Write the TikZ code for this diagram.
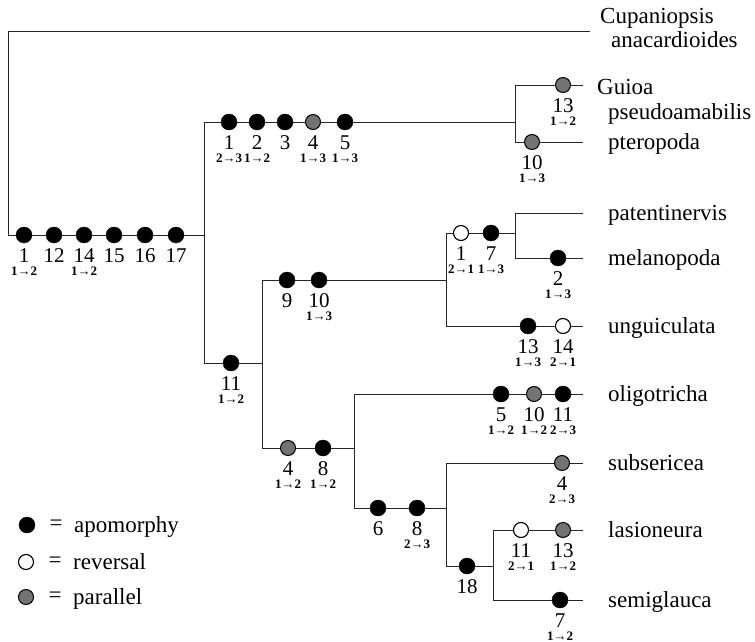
\documentclass[tikz,border=0pt]{standalone}
\usepackage{fontspec}
\setmainfont{Liberation Serif}
\usetikzlibrary{positioning}
\tikzset{
    apo/.style={circle, draw=black, fill=black, minimum size=16pt, inner sep=0pt},
    rev/.style={circle, draw=black, fill=white, line width=1.1pt, minimum size=15pt, inner sep=0pt},
    par/.style={circle, draw=black, fill=black!55, line width=1pt, minimum size=15pt, inner sep=0pt},
    branch/.style={draw=black!85, line width=0.9pt},
    char num/.style={anchor=base, inner sep=0pt, font=\fontsize{21}{21}\selectfont},
    char sub/.style={anchor=base, inner sep=0pt, font=\fontsize{13}{13}\selectfont\bfseries},
    taxon/.style={anchor=base west, inner sep=0pt, font=\fontsize{23}{23}\selectfont},
}
% a character change: style, name, position, number, state change
\newcommand{\charmark}[5]{%
    \node[#1] (#2) at (#3) {};
    \node[char num] (#2-n) at ([yshift=-27pt]#2.center) {#4};
    \if\relax\detokenize{#5}\relax\else
        \node[char sub] (#2-s) at ([yshift=-40pt]#2.center) {#5};
    \fi
}

\begin{document}
\begin{tikzpicture}[x=1pt, y=-1pt]
    \useasboundingbox (0,0) rectangle (755,642);

    % junctions
    \coordinate (root) at (8,235);
    \coordinate (j1) at (204,235);
    \coordinate (j2) at (515,122);
    \coordinate (j3) at (262,363);
    \coordinate (j4) at (446,280);
    \coordinate (j5) at (515,233);
    \coordinate (j6) at (354,448);
    \coordinate (j7) at (446,508);
    \coordinate (j8) at (493,566);
    % tips
    \coordinate (cup) at (590,31);
    \coordinate (gui) at (583,85);
    \coordinate (pte) at (583,142);
    \coordinate (pat) at (583,213);
    \coordinate (mel) at (583,258);
    \coordinate (ung) at (583,326);
    \coordinate (oli) at (583,394);
    \coordinate (sub) at (583,463);
    \coordinate (las) at (583,530);
    \coordinate (sem) at (583,600);

    \foreach \a/\b in {root/cup, root/j1, j1/j2, j1/j3, j2/gui, j2/pte,
                       j3/j4, j3/j6, j4/j5, j4/ung, j5/pat, j5/mel,
                       j6/oli, j6/j7, j7/sub, j7/j8, j8/las, j8/sem}
        \draw[branch] (\a) |- (\b);

    % characters
    \charmark{apo}{r1}{24,235}{1}{1→2}
    \charmark{apo}{r12}{54,235}{12}{}
    \charmark{apo}{r14}{84,235}{14}{1→2}
    \charmark{apo}{r15}{114,235}{15}{}
    \charmark{apo}{r16}{145,235}{16}{}
    \charmark{apo}{r17}{176,235}{17}{}

    \charmark{apo}{g1}{229,122}{1}{2→3}
    \charmark{apo}{g2}{257,122}{2}{1→2}
    \charmark{apo}{g3}{285,122}{3}{}
    \charmark{par}{g4}{313,122}{4}{1→3}
    \charmark{apo}{g5}{345,122}{5}{1→3}
    \charmark{par}{gui13}{563,85}{13}{1→2}
    \charmark{par}{pte10}{532,142}{10}{1→3}

    \charmark{apo}{a11}{231,363}{11}{1→2}
    \charmark{apo}{b9}{287,280}{9}{}
    \charmark{apo}{b10}{319,280}{10}{1→3}
    \charmark{rev}{c1}{461,233}{1}{2→1}
    \charmark{apo}{c7}{491,233}{7}{1→3}
    \charmark{apo}{mel2}{558,258}{2}{1→3}
    \charmark{apo}{ung13}{528,326}{13}{1→3}
    \charmark{rev}{ung14}{563,326}{14}{2→1}

    \charmark{par}{d4}{288,448}{4}{1→2}
    \charmark{apo}{d8}{323,448}{8}{1→2}
    \charmark{apo}{oli5}{501,394}{5}{1→2}
    \charmark{par}{oli10}{534,394}{10}{1→2}
    \charmark{apo}{oli11}{563,394}{11}{2→3}
    \charmark{apo}{e6}{378,508}{6}{}
    \charmark{apo}{e8}{417,508}{8}{2→3}
    \charmark{par}{sub4}{562,463}{4}{2→3}
    \charmark{apo}{f18}{467,566}{18}{}
    \charmark{rev}{las11}{521,530}{11}{2→1}
    \charmark{par}{las13}{563,530}{13}{1→2}
    \charmark{apo}{sem7}{560,600}{7}{1→2}

    % taxa
    \node[taxon] (t-cup1) at (600,24) {Cupaniopsis};
    \node[taxon] (t-cup2) at (611,48) {anacardioides};
    \node[taxon] (t-gui1) at (597,95) {Guioa};
    \node[taxon] (t-gui2) at (608,119) {pseudoamabilis};
    \node[taxon] (t-pte) at (608,149) {pteropoda};
    \node[taxon] (t-pat) at (608,220) {patentinervis};
    \node[taxon] (t-mel) at (608,265) {melanopoda};
    \node[taxon] (t-ung) at (608,333) {unguiculata};
    \node[taxon] (t-oli) at (608,401) {oligotricha};
    \node[taxon] (t-sub) at (608,470) {subsericea};
    \node[taxon] (t-las) at (608,537) {lasioneura};
    \node[taxon] (t-sem) at (608,607) {semiglauca};

    % legend
    \node[apo] (k-apo) at (27,525) {};
    \node[rev] (k-rev) at (26,562) {};
    \node[par] (k-par) at (26,597) {};
    \foreach \k/\txt in {apo/apomorphy, rev/reversal, par/parallel} {
        \node[font=\fontsize{23}{23}\selectfont, inner sep=0pt] (k-\k-eq) at ([xshift=29pt]k-\k.center) {=};
        \node[taxon] (k-\k-txt) at ([xshift=47pt, yshift=-7pt]k-\k.center) {\txt};
    }
\end{tikzpicture}
\end{document}
